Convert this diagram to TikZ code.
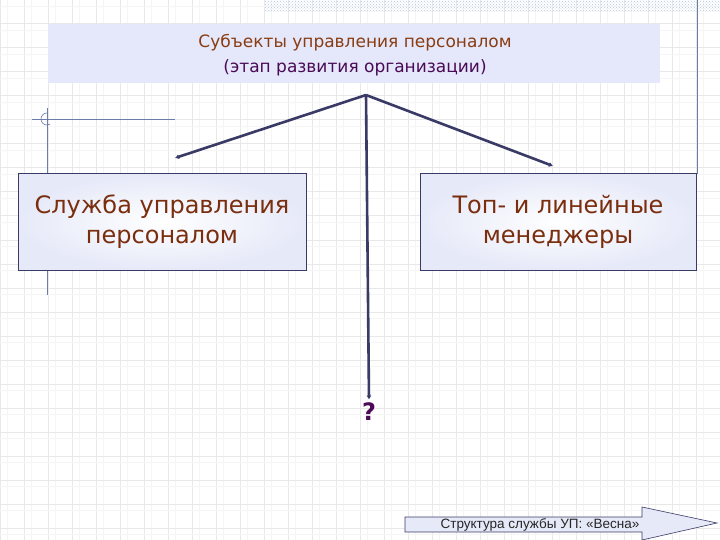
\documentclass[tikz,border=0pt]{standalone}
\usepackage{fontspec}
\setmainfont{DejaVu Sans}
\newfontfamily\arialfont{Liberation Sans}
\usetikzlibrary{arrows.meta,patterns,shapes.arrows}
\definecolor{navy}{HTML}{3A3A66}
\definecolor{boxfill}{HTML}{E6E9F8}
\definecolor{titlefill}{HTML}{E4E8FA}
\definecolor{brown}{HTML}{7A2E0E}
\definecolor{orangebrown}{HTML}{8A3C12}
\definecolor{purp}{HTML}{4A0A55}
\definecolor{deco}{HTML}{6A7CA8}
\definecolor{hatch}{HTML}{B8C8E0}
\tikzset{
  gridmain/.style={draw=black!9, line width=1pt},
  gridfaint/.style={draw=black!4, line width=0.8pt},
  subjbox/.style={draw=navy, line width=1pt, inner color=white, outer color=boxfill,
    minimum width=288pt, minimum height=96pt, align=center, text=brown,
    font=\fontsize{24}{30}\selectfont},
  connector/.style={draw=navy, line width=2.6pt, -{Latex[length=4pt,width=5pt]}},
}
\begin{document}
\begin{tikzpicture}[x=1pt,y=-1pt]
\useasboundingbox (0,0) rectangle (720,540);
\fill[white] (0,0) rectangle (720,540);
% grid
\foreach \k in {0,...,30} {
  \draw[gridfaint] (\k*24+7,0) -- (\k*24+7,540);
  \draw[gridmain] (\k*24,0) -- (\k*24,540);
}
\foreach \k in {0,...,23} {
  \draw[gridfaint] (0,\k*24+6) -- (720,\k*24+6);
  \draw[gridmain] (0,\k*24) -- (720,\k*24);
}
% top-right hatched band and vertical line
\fill[pattern=crosshatch dots, pattern color=hatch] (265,0) rectangle (720,12);
\draw[deco, line width=0.8pt] (697,0) -- (697,174);
% left decoration
\draw[deco, line width=0.8pt] (32,119) -- (175,119);
\draw[deco, line width=0.8pt] (47,108) -- (47,295);
\draw[deco, line width=0.6pt] (47,113) arc (-90:-300:6);
% title box
\fill[titlefill] (48,24) rectangle (660,83);
\node (title) at (355,55) [align=center, font=\fontsize{17}{25}\selectfont]
  {\textcolor{orangebrown}{Субъекты управления персоналом}\\
   \textcolor{purp}{(этап развития организации)}};
\coordinate (hub) at (366,95);
% subject boxes
\node[subjbox] (left) at (162,222) {Служба управления\\персоналом};
\node[subjbox, minimum width=276pt] (right) at (558,222) {Топ- и линейные\\менеджеры};
\node (q) at (369,412) [text=purp, font=\bfseries\fontsize{24}{26}\selectfont] {?};
% connectors
\coordinate (lend) at (175,158);
\coordinate (rend) at (553,166);
\draw[connector] (hub) -- (lend);
\draw[connector] (hub) -- (rend);
\draw[connector] (hub) -- (q.north);
% bottom arrow
\draw[navy, line width=0.6pt, fill=boxfill]
  (405,517) -- (642,517) -- (642,507) -- (717,523) -- (642,540) -- (642,532) -- (405,532) -- cycle;
\node (nav) at (540,524.5) [font=\arialfont\fontsize{13.5}{15}\selectfont, text=black!85]
  {Структура службы УП: «Весна»};
\end{tikzpicture}
\end{document}
